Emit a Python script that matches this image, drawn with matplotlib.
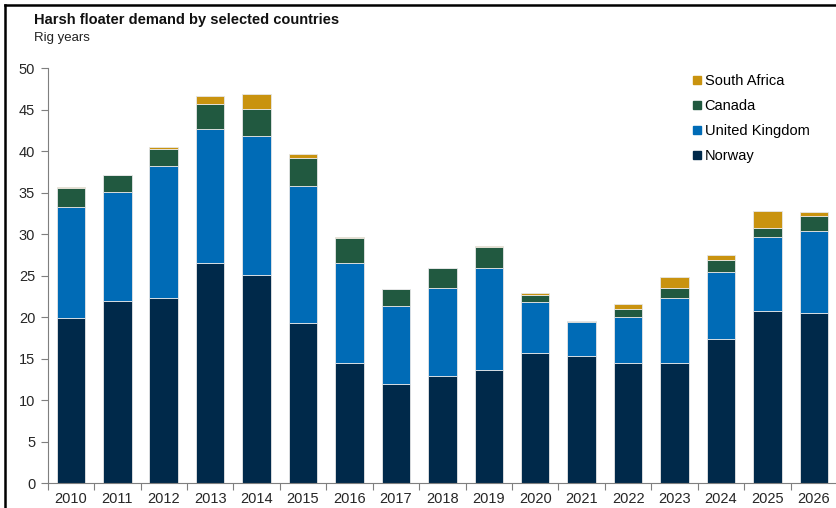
import numpy as np
import matplotlib.pyplot as plt
from matplotlib.lines import Line2D

# Harsh floater demand (rig years) by country, stacked per year
years = [str(y) for y in range(2010, 2027)]
norway = [19.9, 22.0, 22.3, 26.6, 25.1, 19.3, 14.5, 12.0, 12.9, 13.6, 15.7, 15.3, 14.5, 14.5, 17.4, 20.7, 20.5]
united_kingdom = [13.35, 13.1, 15.9, 16.1, 16.7, 16.55, 12.1, 9.4, 10.6, 12.4, 6.1, 4.15, 5.5, 7.8, 8.05, 9.0, 9.9]
canada = [2.3, 2.0, 2.1, 3.0, 3.3, 3.35, 3.0, 2.0, 2.5, 2.5, 0.85, 0.1, 0.95, 1.25, 1.45, 1.0, 1.8]
south_africa = [0.1, 0.1, 0.25, 1.0, 1.8, 0.5, 0.05, 0.0, 0.0, 0.15, 0.3, 0.05, 0.7, 1.25, 0.6, 2.1, 0.5]

series = [
    ("Norway", norway, "#00294a"),
    ("United Kingdom", united_kingdom, "#006bb6"),
    ("Canada", canada, "#215940"),
    ("South Africa", south_africa, "#c9930f"),
]

plt.rcParams['font.family'] = ['Liberation Sans', 'DejaVu Sans']

fig = plt.figure(figsize=(8.37, 5.08), dpi=100)
ax = fig.add_axes([47.7 / 837, (508 - 483.3) / 508, (837 - 47.7) / 837, 415 / 508])

x = np.arange(len(years))
bottom = np.zeros(len(years))
for name, vals, color in series:
    vals = np.array(vals)
    ax.bar(x, vals, bottom=bottom, width=0.615, color=color,
           edgecolor="#e6e6e6", linewidth=0.6, label=name, zorder=2)
    bottom += vals

ax.set_ylim(0, 50)
ax.set_xlim(-0.5, 16.45)
ax.set_yticks(range(0, 51, 5))
ax.set_xticks(x)
ax.set_xticklabels(years)
ax.set_xticks(np.arange(-0.5, 16.6, 1), minor=True)

for side in ["top", "right"]:
    ax.spines[side].set_visible(False)
for side in ["left", "bottom"]:
    ax.spines[side].set_color("#7f7f7f")
    ax.spines[side].set_linewidth(0.8)

ax.tick_params(axis="y", length=5, width=0.8, color="#7f7f7f", labelsize=10.5,
               labelcolor="#262626", pad=4)
ax.tick_params(axis="x", which="major", length=0, labelsize=10.5,
               labelcolor="#262626", pad=6)
ax.tick_params(axis="x", which="minor", length=5, width=0.8, color="#7f7f7f")

# legend listed top-down in reverse stacking order
handles = [Line2D([], [], marker="s", linestyle="none", markersize=5.5,
                  markerfacecolor=c, markeredgecolor=c) for _, _, c in series[::-1]]
labels = [n for n, _, _ in series[::-1]]
ax.legend(handles, labels, loc="upper left", bbox_to_anchor=(0.81, 1.0),
          frameon=False, fontsize=10.5, handlelength=0.6, handletextpad=0.2,
          labelspacing=0.75, borderaxespad=0)

fig.text(34 / 837, 1 - 20 / 508, "Harsh floater demand by selected countries",
         fontsize=10.5, fontweight="bold", color="#111111", va="center")
fig.text(34 / 837, 1 - 38 / 508, "Rig years", fontsize=9.5, color="#222222", va="center")

# frame lines along the top and left edge
fig.add_artist(Line2D([5 / 837, 1], [1 - 5 / 508, 1 - 5 / 508], color="black", linewidth=1.8,
                      transform=fig.transFigure))
fig.add_artist(Line2D([5 / 837, 5 / 837], [0, 1 - 5 / 508], color="black", linewidth=1.8,
                      transform=fig.transFigure))

fig.savefig("out.png", dpi=100)
